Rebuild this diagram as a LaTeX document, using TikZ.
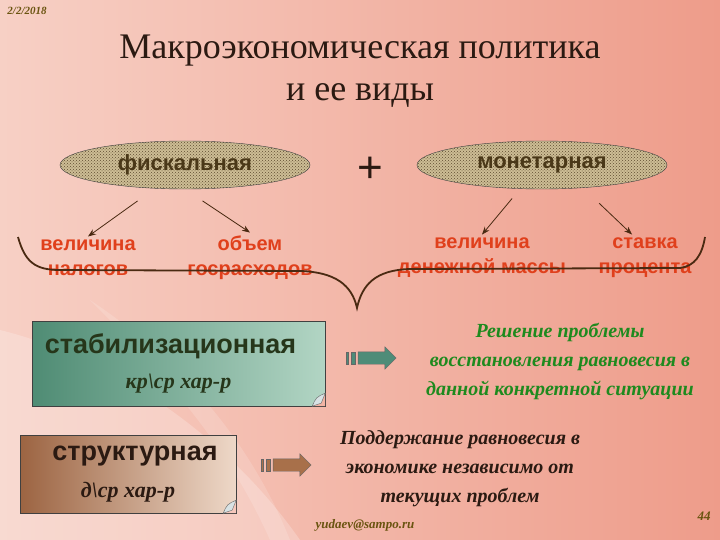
\documentclass[tikz,border=0pt]{standalone}
\usepackage{fontspec}
\setmainfont{Liberation Serif}
\setsansfont{Liberation Sans}
\usetikzlibrary{positioning}
\usetikzlibrary{arrows.meta}
\usetikzlibrary{shapes.geometric}
\usetikzlibrary{shapes.arrows}
\usetikzlibrary{patterns}
\definecolor{bgleft}{HTML}{F7D0C5}
\definecolor{bgright}{HTML}{EE9C8A}
\definecolor{inkbrown}{HTML}{2B1A12}
\definecolor{kindfill}{HTML}{CDBD95}
\definecolor{kinddot}{HTML}{5E4C30}
\definecolor{kindtext}{HTML}{4A3818}
\definecolor{factred}{HTML}{E0401C}
\definecolor{bracebrown}{HTML}{4A2A12}
\definecolor{stabdark}{HTML}{4F8C74}
\definecolor{stablight}{HTML}{B2D5C4}
\definecolor{stabtext}{HTML}{26361A}
\definecolor{structdark}{HTML}{9C6442}
\definecolor{structlight}{HTML}{EED8C8}
\definecolor{goalgreen}{HTML}{1E8A1E}
\definecolor{tealarrow}{HTML}{4E8C78}
\definecolor{brownarrow}{HTML}{A8704A}
\definecolor{curlfill}{HTML}{D8E2E4}
\definecolor{olivetext}{HTML}{6A5410}
\tikzset{
	kind/.style={
		draw=black!75,
		ellipse,
		minimum width=250pt,
		minimum height=48pt,
		preaction={fill=kindfill},
		pattern=crosshatch dots,
		pattern color=kinddot,
		text=kindtext,
		font=\sffamily\bfseries\fontsize{22}{22}\selectfont,
	},
	factor/.style={
		align=center,
		text=factred,
		font=\sffamily\bfseries\fontsize{20}{25}\selectfont,
	},
	pointer/.style={
		draw=bracebrown,
		line width=0.8pt,
		shorten <=3pt,
		-{Stealth[length=8pt,width=6pt]}
	},
	sheet/.style={
		draw=black!75,
		rectangle,
		align=center,
		inner sep=0pt,
	},
	fatarrow/.style={
		draw=black!60,
		single arrow,
		single arrow head extend=5pt,
		inner sep=6pt,
		text height=0pt,
		text depth=0pt,
		minimum height=38pt,
	},
	goal/.style={
		align=center,
		font=\bfseries\itshape\fontsize{20}{29}\selectfont,
	},
	brace/.style={
		draw=bracebrown,
		line width=1.8pt,
	},
	footnote/.style={
		font=\bfseries\itshape\fontsize{13}{13}\selectfont,
		text=olivetext,
	},
}

\begin{document}
\begin{tikzpicture}[x=1pt,y=-1pt]
	\useasboundingbox (0,0) rectangle (720,540);
	\shade[left color=bgleft,right color=bgright] (0,0) rectangle (720,540);
	\fill[white,opacity=0.22] (0,330) .. controls (120,360) and (230,440) .. (300,540) -- (0,540) -- cycle;
	\fill[white,opacity=0.15] (90,300) .. controls (180,360) and (250,440) .. (290,540) -- (270,540) .. controls (230,450) and (170,380) .. (90,300) -- cycle;

	\node[footnote,font=\bfseries\itshape\fontsize{11}{11}\selectfont] (date) at (27,11) {2/2/2018};
	\node[align=center,text=inkbrown,font=\fontsize{36}{42}\selectfont] (title) at (360,71) {Макроэкономическая политика\\и ее виды};

	\node[kind] (fisc) at (185,165) {фискальная};
	\node[kind] (mon) at (542,165) {монетарная};
	\node[text=inkbrown,font=\sffamily\fontsize{44}{44}\selectfont] (plus) at (370,170) {+};

	\node[factor] (tax) at (88,258) {величина\\налогов};
	\node[factor] (spend) at (250,258) {объем\\госрасходов};
	\node[factor] (money) at (482,258) {величина\\денежной массы};
	\node[factor] (rate) at (645,258) {ставка\\процента};

	\draw[pointer] ([xshift=-45pt,yshift=-10pt]fisc.south) -- (tax.north);
	\draw[pointer] ([xshift=15pt,yshift=-10pt]fisc.south) -- (spend.north);
	\draw[pointer] ([xshift=-28pt,yshift=-7pt]mon.south) -- (money.north);
	\draw[pointer] ([xshift=55pt,yshift=-12pt]mon.south) -- ([xshift=-13pt]rate.north);

	\coordinate (tip) at (357,308);
	\draw[brace] (18,237) .. controls (25,262) and (35,270) .. (60,270) -- (300,271)
		.. controls (335,272) and (352,285) .. (tip)
		.. controls (362,285) and (375,270) .. (410,269) -- (680,268)
		.. controls (695,266) and (702,255) .. (705,237);

	% types of policy
	\node[sheet,left color=stabdark,right color=stablight,minimum width=293pt,minimum height=85pt] (stab) at (178.5,363.5)
		{\hspace*{-16pt}{\sffamily\bfseries\fontsize{27}{27}\selectfont\color{stabtext}стабилизационная}\\[14pt]
		{\bfseries\itshape\fontsize{22}{22}\selectfont\color{stabtext}кр\textbackslash ср хар-р}};
	\node[sheet,left color=structdark,right color=structlight,minimum width=216pt,minimum height=78pt] (struct) at (128,474)
		{\hspace*{14pt}{\sffamily\bfseries\fontsize{27}{27}\selectfont\color{inkbrown}структурная}\\[15pt]
		{\bfseries\itshape\fontsize{22}{22}\selectfont\color{inkbrown}д\textbackslash ср хар-р}};

	\fill[bgright!55!bgleft] ([xshift=-13pt]stab.south east) -- (stab.south east) -- ([yshift=13pt]stab.south east) -- cycle;
	\draw[black!60,fill=curlfill] ([xshift=-13pt]stab.south east) .. controls ([xshift=-9pt,yshift=9pt]stab.south east) .. ([yshift=13pt]stab.south east) -- ([xshift=-4pt,yshift=3pt]stab.south east) -- cycle;
	\fill[bgleft!85!bgright] ([xshift=-13pt]struct.south east) -- (struct.south east) -- ([yshift=13pt]struct.south east) -- cycle;
	\draw[black!60,fill=curlfill] ([xshift=-13pt]struct.south east) .. controls ([xshift=-9pt,yshift=9pt]struct.south east) .. ([yshift=13pt]struct.south east) -- ([xshift=-4pt,yshift=3pt]struct.south east) -- cycle;

	\node[fatarrow,fill=tealarrow] (stabarrow) at (374,358) {};
	\draw[black!60,fill=tealarrow] ([xshift=-12pt,yshift=-6pt]stabarrow.tail) rectangle ++(2.5pt,12pt);
	\draw[black!60,fill=tealarrow] ([xshift=-7pt,yshift=-6pt]stabarrow.tail) rectangle ++(4pt,12pt);
	\node[fatarrow,fill=brownarrow] (structarrow) at (289,465) {};
	\draw[black!60,fill=brownarrow] ([xshift=-12pt,yshift=-6pt]structarrow.tail) rectangle ++(2.5pt,12pt);
	\draw[black!60,fill=brownarrow] ([xshift=-7pt,yshift=-6pt]structarrow.tail) rectangle ++(4pt,12pt);

	\node[goal,text=goalgreen] (stabgoal) at (560,361) {Решение проблемы\\восстановления равновесия в\\данной конкретной ситуации};
	\node[goal,text=inkbrown] (structgoal) at (460,469) {Поддержание равновесия в\\экономике независимо от\\текущих проблем};

	\node[footnote] (mail) at (365,525) {yudaev@sampo.ru};
	\node[footnote] (page) at (704,516) {44};
\end{tikzpicture}
\end{document}
